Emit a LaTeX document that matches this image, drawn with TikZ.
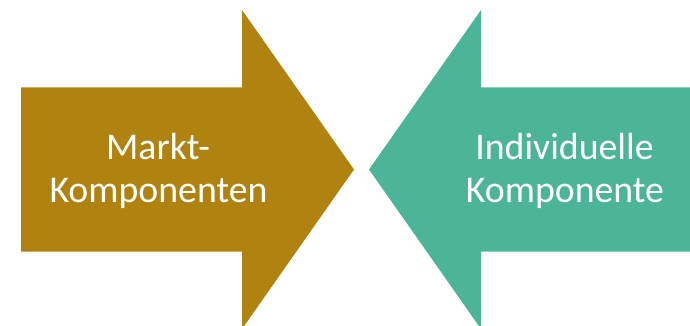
\documentclass[tikz,border=0pt]{standalone}
\usepackage{fontspec}
\setmainfont{Carlito}
\definecolor{gold}{HTML}{B08311}
\definecolor{teal2}{HTML}{4DB597}
\tikzset{lbl/.style={text=white, font=\fontsize{37.8}{43}\selectfont, inner sep=0pt, anchor=base}}
\begin{document}
\begin{tikzpicture}[x=1pt,y=-1pt]
\useasboundingbox (0,0) rectangle (690,326);
\clip (0,0) rectangle (690,326);
\fill[gold] (21,87.5) -- (242,87.5) -- (242,10) -- (354,169.5) -- (242,329) -- (242,251.5) -- (21,251.5) -- cycle;
\fill[teal2] (691,87.5) -- (481,87.5) -- (481,10) -- (369,169.5) -- (481,329) -- (481,251.5) -- (691,251.5) -- cycle;
\node[lbl] (l1) at (158,159) {Markt-};
\node[lbl] (l2) at (158.5,202) {Komponenten};
\node[lbl] (r1) at (564.5,159) {Individuelle};
\node[lbl] (r2) at (565,202) {Komponente};
\end{tikzpicture}
\end{document}
